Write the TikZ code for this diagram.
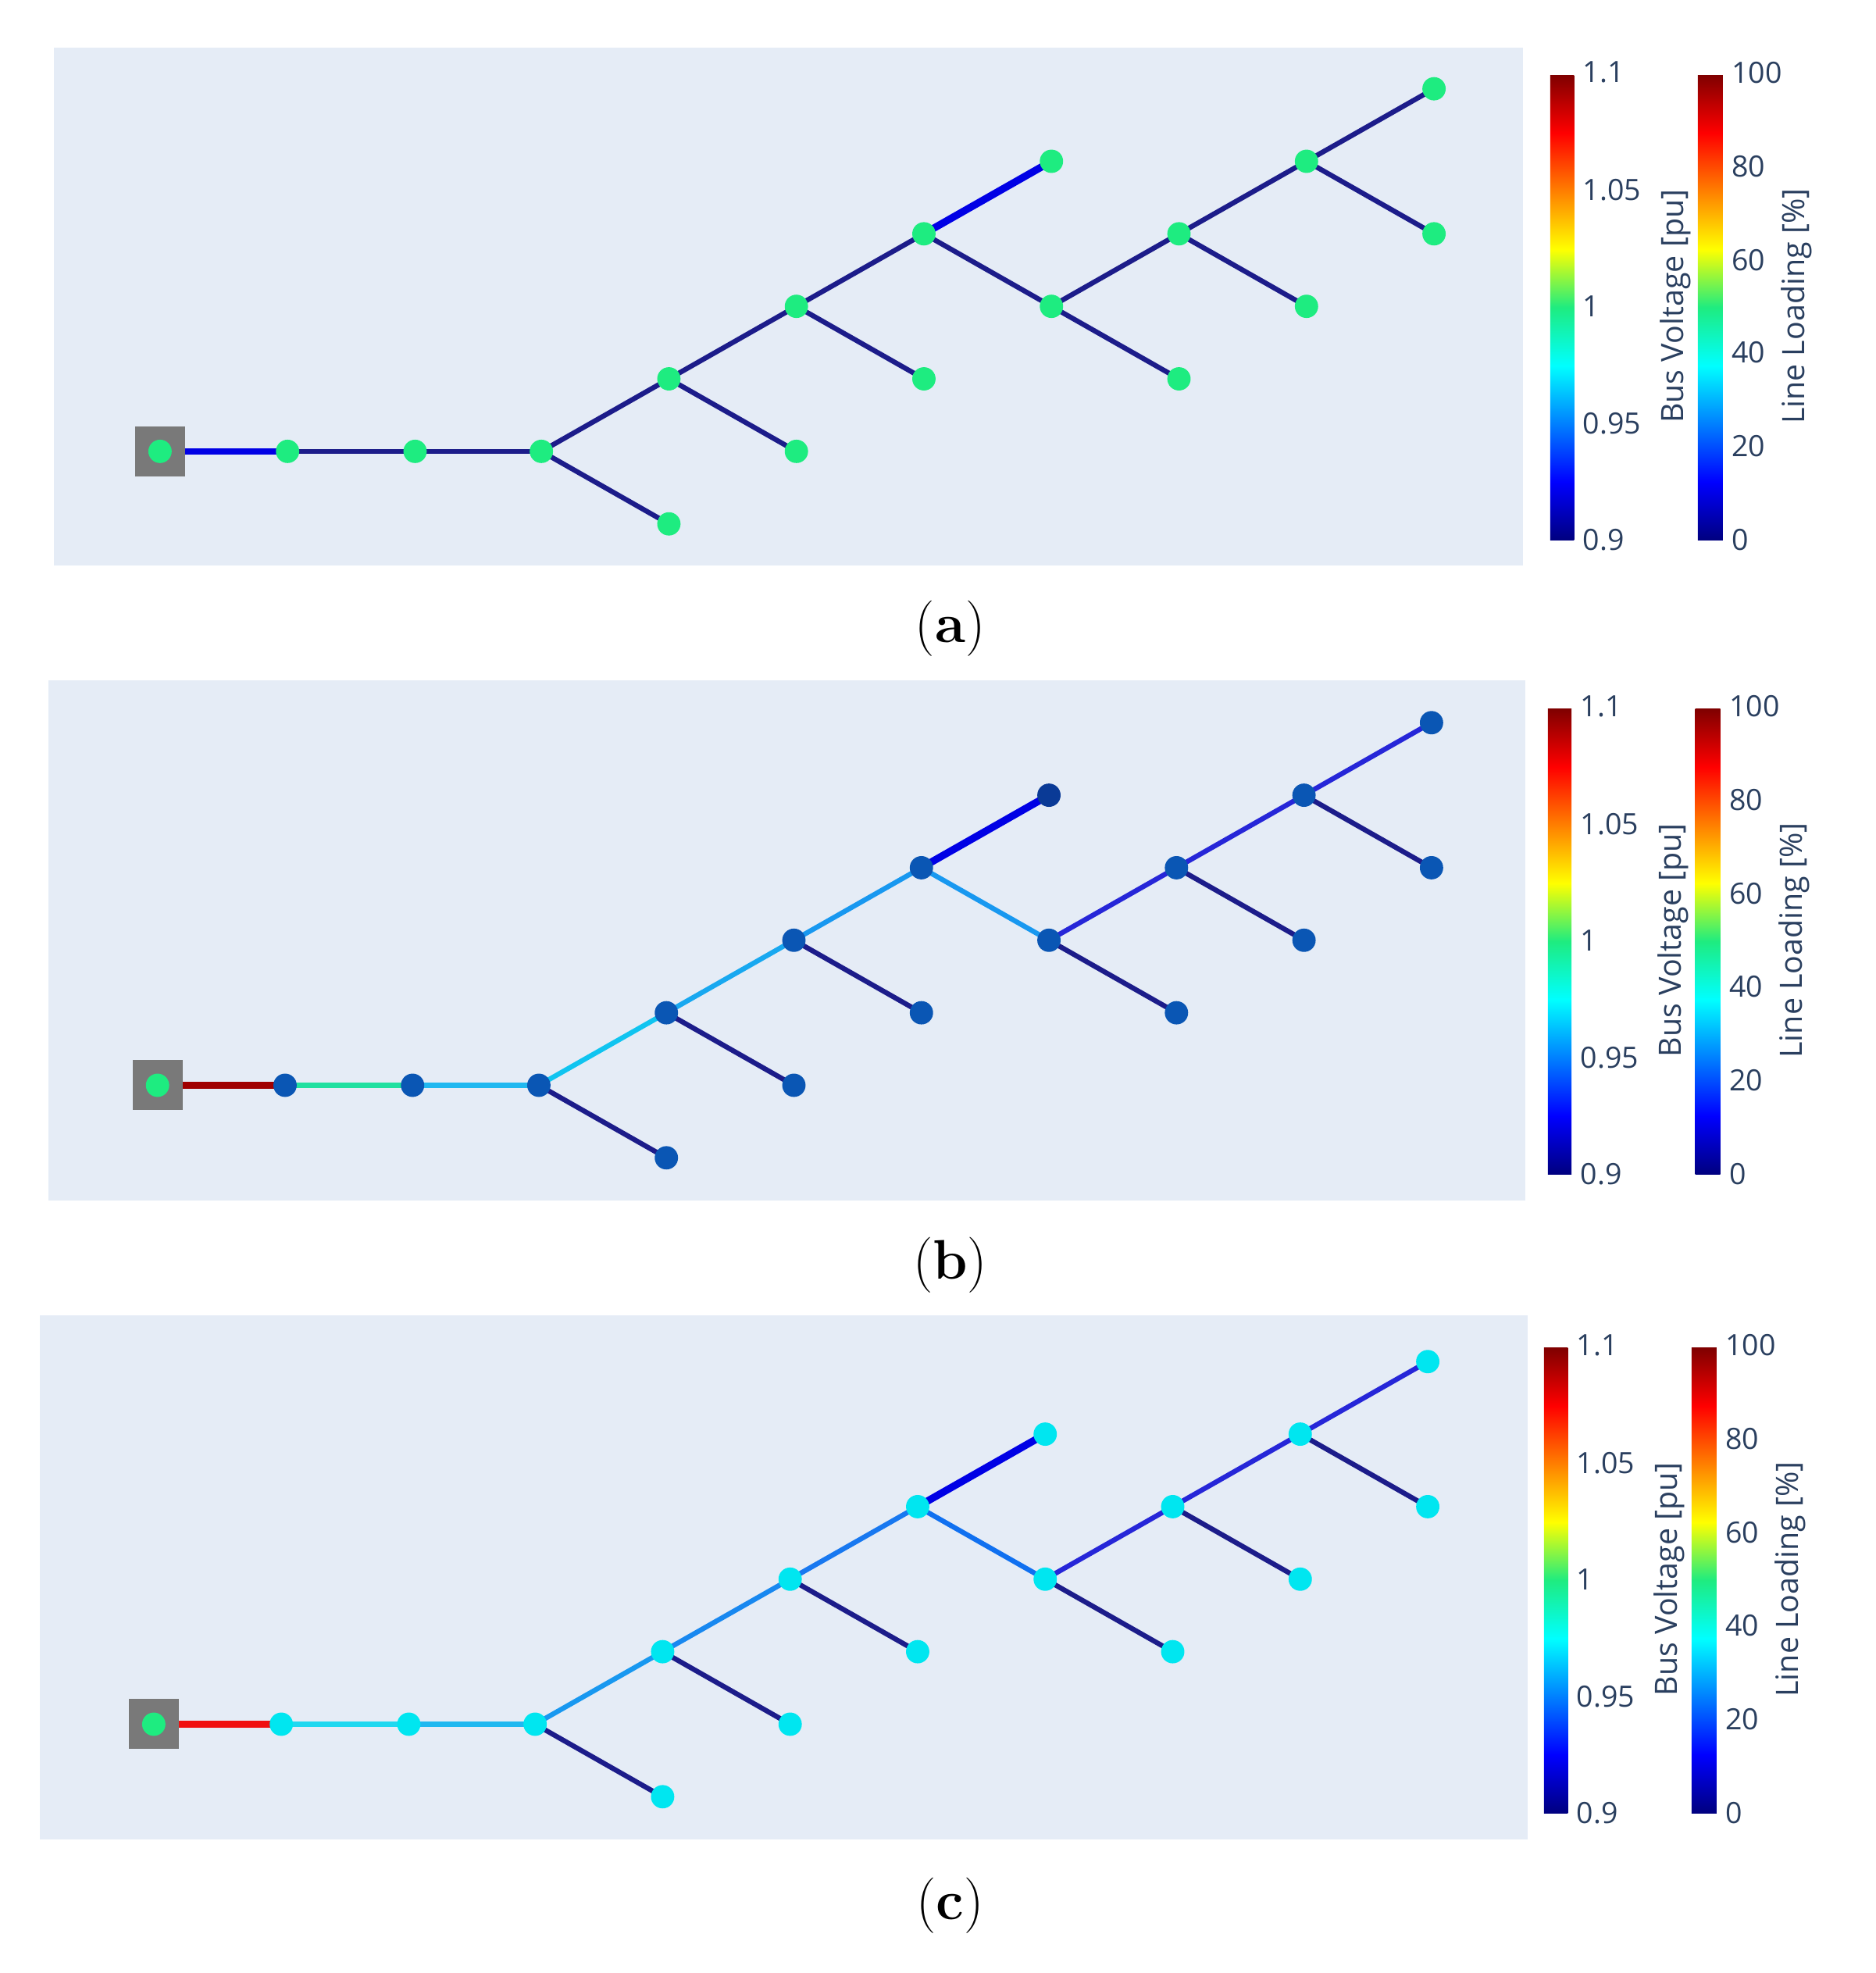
\documentclass[tikz,border=0pt]{standalone}
\usepackage{fontspec}
\newfontfamily\ps{Open Sans}
\usetikzlibrary{shadings}
\definecolor{bgc}{HTML}{E5ECF6}
\definecolor{txt}{HTML}{2A3F5F}
\definecolor{navy}{HTML}{1C1C8A}
\definecolor{jnavy}{rgb}{0,0,0.5}
\definecolor{jdred}{rgb}{0.5,0,0}
\definecolor{spring}{HTML}{1EEC80}
\pgfdeclareverticalshading{jet}{100bp}{color(0bp)=(jnavy); color(25bp)=(jnavy); color(31.25bp)=(blue); color(43.75bp)=(cyan); color(50bp)=(spring); color(56.25bp)=(yellow); color(68.75bp)=(red); color(75bp)=(jdred); color(100bp)=(jdred)}
\tikzset{
 edge/.style={line width=3.4pt},
 bus/.style={circle, fill=nodec, inner sep=0pt, minimum size=0.56cm},
 tick/.style={font=\ps\fontsize{20}{22}\selectfont, text=txt, anchor=west, inner sep=0pt},
 ttl/.style={font=\ps\fontsize{21}{24}\selectfont, text=txt, rotate=90, inner sep=0pt},
 capt/.style={font=\fontsize{38}{44}\selectfont, inner sep=0pt}
}
\newcommand{\drawpanel}[9]{%
 \fill[bgc] (#4,#5) rectangle (#6,#7);
 \begin{scope}[shift={(#2,#3)}]
 \coordinate (#1n0) at (128,361);
 \coordinate (#1n1) at (230,361);
 \coordinate (#1n2) at (332,361);
 \coordinate (#1n3) at (433,361);
 \coordinate (#1n4) at (535,303);
 \coordinate (#1n4b) at (535,419);
 \coordinate (#1n5) at (637,245);
 \coordinate (#1n5b) at (637,361);
 \coordinate (#1n6) at (739,187);
 \coordinate (#1n6b) at (739,303);
 \coordinate (#1n6a) at (841,129);
 \coordinate (#1n7) at (841,245);
 \coordinate (#1n7b) at (943,303);
 \coordinate (#1n8) at (943,187);
 \coordinate (#1n8b) at (1045,245);
 \coordinate (#1n9) at (1045,129);
 \coordinate (#1n9a) at (1147,71);
 \coordinate (#1n9b) at (1147,187);
 \draw[edge,navy] (#1n3)--(#1n4b);
 \draw[edge,navy] (#1n4)--(#1n5b);
 \draw[edge,navy] (#1n5)--(#1n6b);
 \draw[edge,navy] (#1n7)--(#1n7b);
 \draw[edge,navy] (#1n8)--(#1n8b);
 \draw[edge,navy] (#1n9)--(#1n9b);
 \draw[edge,eG,line width=4.5pt] (#1n0)--(#1n1);
 \draw[edge,e12] (#1n1)--(#1n2);
 \draw[edge,e23] (#1n2)--(#1n3);
 \draw[edge,e34] (#1n3)--(#1n4);
 \draw[edge,e45] (#1n4)--(#1n5);
 \draw[edge,e56] (#1n5)--(#1n6);
 \draw[edge,e67] (#1n6)--(#1n7);
 \draw[edge,e78] (#1n7)--(#1n8);
 \draw[edge,e89] (#1n8)--(#1n9);
 \draw[edge,e89] (#1n9)--(#1n9a);
 \draw[edge,blue!90!black,line width=5pt] (#1n6)--(#1n6a);
 \node[fill=gray!95!black,minimum size=1.2cm,inner sep=0pt] (#1ext) at (#1n0) {};
 \node[bus,fill=spring] (#1b0) at (#1n0) {};
 \foreach \n in {n1,n2,n3,n4,n4b,n5,n5b,n6,n6b,n7,n7b,n8,n8b,n9,n9a,n9b}
   \node[bus] (#1b\n) at (#1\n) {};
 \node[bus,fill=nodeA] (#1bx) at (#1n6a) {};
 \shade[shading=jet] (1240,60) rectangle (1259,432);
 \shade[shading=jet] (1358,60) rectangle (1378,432);
 \node[tick] (#1v1) at (1266,58) {1.1};
 \node[tick] (#1v2) at (1266,152) {1.05};
 \node[tick] (#1v3) at (1266,245) {1};
 \node[tick] (#1v4) at (1266,339) {0.95};
 \node[tick] (#1v5) at (1266,432) {0.9};
 \node[tick] (#1l1) at (1385,58) {100};
 \node[tick] (#1l2) at (1385,133) {80};
 \node[tick] (#1l3) at (1385,208) {60};
 \node[tick] (#1l4) at (1385,282) {40};
 \node[tick] (#1l5) at (1385,357) {20};
 \node[tick] (#1l6) at (1385,432) {0};
 \node[ttl] (#1t1) at (1340,245) {Bus Voltage [pu]};
 \node[ttl] (#1t2) at (1437,245) {Line Loading [\%]};
 \end{scope}
 \node[capt] (#1cap) at (760,#9) {(\textbf{#8})};
}
\begin{document}
\begin{tikzpicture}[x=0.03cm,y=-0.03cm]
\useasboundingbox (0,0) rectangle (1500,1578);
\colorlet{nodec}{spring}\colorlet{nodeA}{spring}
\colorlet{eG}{blue!90!black}
\colorlet{e12}{navy}\colorlet{e23}{navy}\colorlet{e34}{navy}\colorlet{e45}{navy}
\colorlet{e56}{navy}\colorlet{e67}{navy}\colorlet{e78}{navy}\colorlet{e89}{navy}
\drawpanel{a}{0}{0}{43}{38}{1218}{452}{a}{503}
\definecolor{nodec}{HTML}{0A56B4}\definecolor{nodeA}{HTML}{0A3A96}
\definecolor{eG}{HTML}{A00000}\definecolor{e12}{HTML}{20E0A0}
\definecolor{e23}{HTML}{20B8F0}\definecolor{e34}{HTML}{10C4F0}
\definecolor{e45}{HTML}{18A8F0}\definecolor{e56}{HTML}{1898F0}
\definecolor{e67}{HTML}{1898F0}\definecolor{e78}{HTML}{2626D8}
\definecolor{e89}{HTML}{2626D8}
\drawpanel{b}{-2}{507}{39}{544}{1220}{960}{b}{1012}
\definecolor{nodec}{HTML}{00E6F0}\definecolor{nodeA}{HTML}{00E6F0}
\definecolor{eG}{HTML}{F01010}\definecolor{e12}{HTML}{20D8F0}
\definecolor{e23}{HTML}{20B8F0}\definecolor{e34}{HTML}{1898F0}
\definecolor{e45}{HTML}{1888F0}\definecolor{e56}{HTML}{1878F0}
\definecolor{e67}{HTML}{1070F0}\definecolor{e78}{HTML}{2626D8}
\definecolor{e89}{HTML}{2626D8}
\drawpanel{c}{-5}{1018}{32}{1052}{1222}{1471}{c}{1524}
\end{tikzpicture}
\end{document}
